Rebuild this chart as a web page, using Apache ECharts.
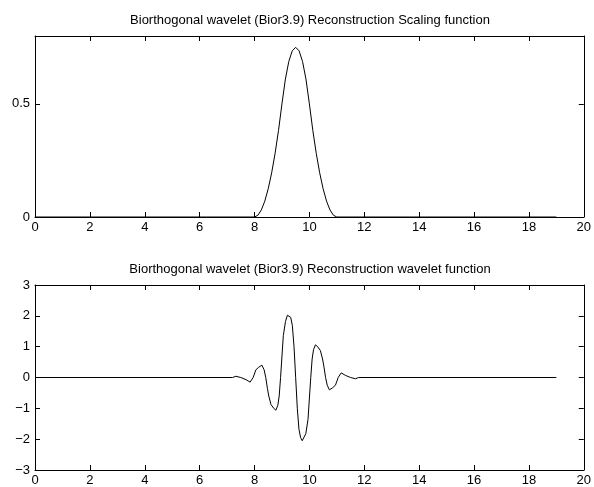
<!DOCTYPE html>
<html>
<head>
<meta charset="utf-8">
<script src="https://cdn.jsdelivr.net/npm/echarts@6/dist/echarts.min.js"></script>
<style>
html,body{margin:0;padding:0;background:#fff;}
#chart{width:594px;height:487px;}
</style>
</head>
<body>
<div id="chart"></div>
<script>
// Titles
const titleTop = 'Biorthogonal wavelet (Bior3.9) Reconstruction Scaling function';
const titleBottom = 'Biorthogonal wavelet (Bior3.9) Reconstruction wavelet function';

// Tick values
const xTicks = [0, 2, 4, 6, 8, 10, 12, 14, 16, 18, 20];
const phiYTicks = [0, 0.5];
const psiYTicks = [-3, -2, -1, 0, 1, 2, 3];

// Scaling function samples
const phiX = [0, 8, 8.125, 8.25, 8.375, 8.5, 8.625, 8.75, 8.875, 9, 9.125, 9.25, 9.375, 9.5,
  9.625, 9.75, 9.875, 10, 10.125, 10.25, 10.375, 10.5, 10.625, 10.75, 10.875, 11, 19];
const phiY = [0, 0, 0.0078, 0.0313, 0.0703, 0.125, 0.1953, 0.2813, 0.3828, 0.5, 0.6094, 0.6875, 0.7344, 0.75,
  0.7344, 0.6875, 0.6094, 0.5, 0.3828, 0.2813, 0.1953, 0.125, 0.0703, 0.0313, 0.0078, 0, 0];

// Wavelet function samples
const psiX = [0, 7.20, 7.32, 7.50, 7.69, 7.84, 7.95, 8.05, 8.15, 8.27, 8.35, 8.41, 8.47, 8.52, 8.60, 8.70, 8.78,
  8.85, 8.90, 8.95, 9.05, 9.13, 9.20, 9.26, 9.32, 9.38, 9.44, 9.50,
  9.56, 9.62, 9.68, 9.74, 9.80, 9.87, 9.95, 10.05, 10.10, 10.15, 10.22, 10.30, 10.40, 10.48, 10.53, 10.59,
  10.65, 10.73, 10.85, 10.95, 11.05, 11.16, 11.31, 11.50, 11.68, 11.80, 19];
const psiY = [0, 0, 0.04, 0, -0.07, -0.15, 0, 0.25, 0.33, 0.40, 0.25, 0, -0.35, -0.6, -0.875, -1.0, -1.06,
  -0.9, -0.6, 0, 1.36, 1.82, 2.02, 2.05, 1.95, 1.68, 1.0, 0,
  -1.0, -1.68, -1.95, -2.05, -2.02, -1.82, -1.36, 0, 0.6, 0.9, 1.06, 1.0, 0.875, 0.6, 0.35, 0,
  -0.25, -0.40, -0.33, -0.25, 0, 0.15, 0.07, 0, -0.04, 0, 0];

const zip = (xs, ys) => xs.map((x, i) => [x, ys[i]]);
const FONT = 'Liberation Sans, Arial, Helvetica, sans-serif';
const minusFmt = v => String(v).replace('-', '\u2212');

const axLine = {show: true, onZero: false, lineStyle: {color: '#000', width: 1}};
const tickIn = {show: true, inside: true, length: 5, lineStyle: {color: '#000', width: 1}};
const lbl = {color: '#000', fontSize: 13, fontFamily: FONT};

function xAxes(grid) {
  return [
    {type: 'value', gridIndex: grid, position: 'bottom', min: 0, max: 20, interval: 2,
     axisLine: axLine, splitLine: {show: false},
     axisTick: Object.assign({customValues: xTicks}, tickIn),
     axisLabel: Object.assign({margin: 4, customValues: xTicks, formatter: minusFmt}, lbl)},
    {type: 'value', gridIndex: grid, position: 'top', min: 0, max: 20, interval: 2,
     axisLine: axLine, splitLine: {show: false},
     axisTick: Object.assign({customValues: xTicks}, tickIn),
     axisLabel: {show: false}}
  ];
}
function yAxes(grid, min, max, ticks) {
  return [
    {type: 'value', gridIndex: grid, position: 'left', min: min, max: max,
     axisLine: axLine, splitLine: {show: false},
     axisTick: Object.assign({customValues: ticks}, tickIn),
     axisLabel: Object.assign({margin: 5, customValues: ticks, formatter: minusFmt}, lbl)},
    {type: 'value', gridIndex: grid, position: 'right', min: min, max: max,
     axisLine: axLine, splitLine: {show: false},
     axisTick: Object.assign({customValues: ticks}, tickIn),
     axisLabel: {show: false}}
  ];
}

const chart = echarts.init(document.getElementById('chart'), null, {renderer: 'canvas'});
chart.setOption({
  animation: false,
  backgroundColor: '#fff',
  title: [
    {text: titleTop, left: 310, top: 14, padding: 0, textAlign: 'center',
     textStyle: {fontSize: 13, fontWeight: 'normal', color: '#000', fontFamily: FONT}},
    {text: titleBottom, left: 310, top: 263, padding: 0, textAlign: 'center',
     textStyle: {fontSize: 13, fontWeight: 'normal', color: '#000', fontFamily: FONT}}
  ],
  grid: [
    {left: 35, top: 36, width: 550, height: 181},
    {left: 35, top: 285, width: 550, height: 192}
  ],
  xAxis: xAxes(0).concat(xAxes(1)),
  yAxis: yAxes(0, 0, 0.8, phiYTicks).concat(yAxes(1, -3, 3, psiYTicks)),
  series: [
    {type: 'line', xAxisIndex: 0, yAxisIndex: 0, data: zip(phiX, phiY), showSymbol: false,
     lineStyle: {color: '#000', width: 1}, silent: true},
    {type: 'line', xAxisIndex: 2, yAxisIndex: 2, data: zip(psiX, psiY), showSymbol: false,
     lineStyle: {color: '#000', width: 1}, silent: true}
  ]
});
</script>
</body>
</html>
